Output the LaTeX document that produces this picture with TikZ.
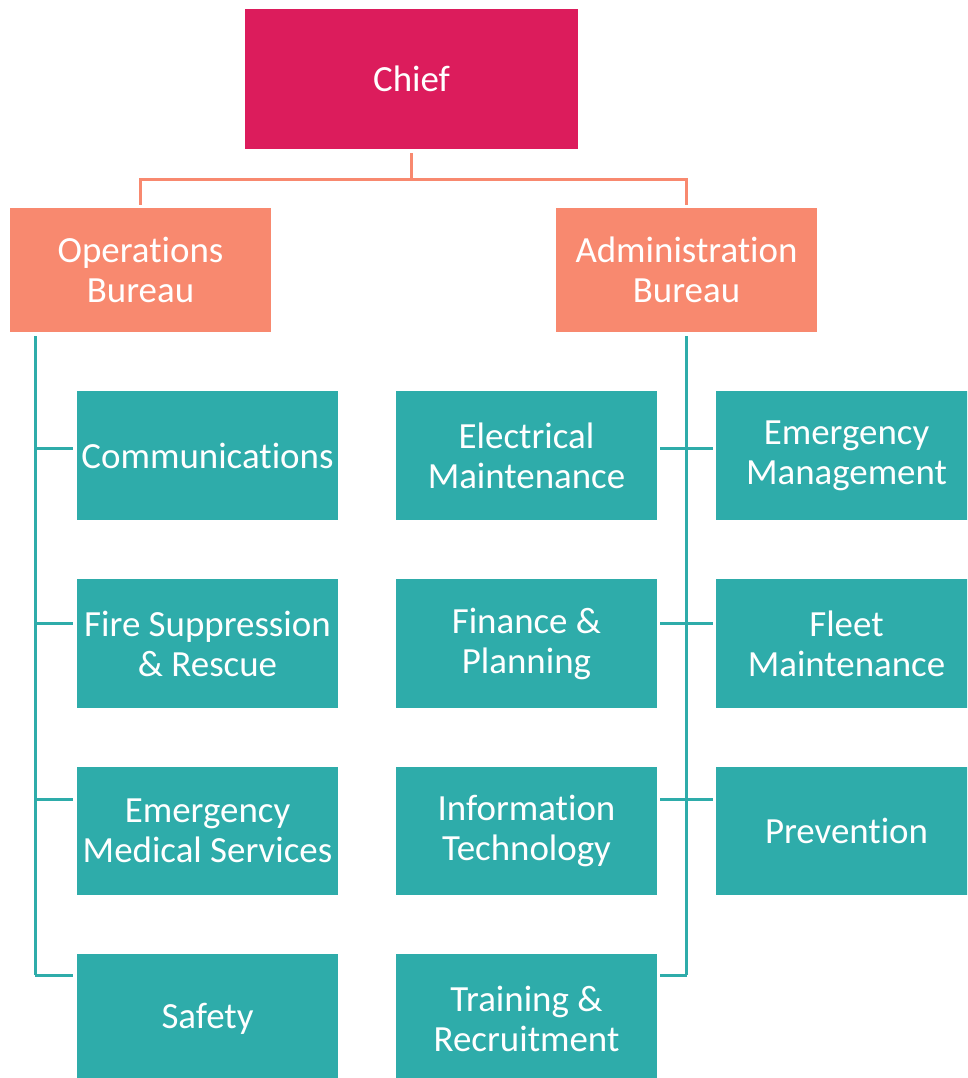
\documentclass[tikz,border=0pt]{standalone}
\usepackage{fontspec}
\setmainfont{Carlito}[Ligatures={NoCommon,NoRare,NoContextual}]
\definecolor{chiefred}{HTML}{DC1C5C}
\definecolor{bureausalmon}{HTML}{F8896F}
\definecolor{unitteal}{HTML}{2EACAA}
\newcommand{\orgfont}{\fontsize{21}{22.8}\selectfont}
\begin{document}
\begin{tikzpicture}[x=0.02cm, y=-0.02cm,
    every node/.style={font=\orgfont, text=white, align=center, inner sep=0pt},
    chiefbox/.style={fill=chiefred, minimum width=6.66cm, minimum height=2.8cm},
    bureaubox/.style={fill=bureausalmon, minimum width=5.22cm, minimum height=2.48cm},
    unitbox/.style={fill=unitteal, minimum width=5.22cm, minimum height=2.58cm},
    salmonline/.style={draw=bureausalmon, line width=0.06cm},
    tealline/.style={draw=unitteal, line width=0.06cm}]
    \useasboundingbox (0,0) rectangle (967,1078);
    \clip (0,0) rectangle (967,1078);
    % top of the chart
    \node[chiefbox] (chief) at (411.5,79) {Chief};
    \node[bureaubox] (ops) at (140.5,270) {Operations\\Bureau};
    \node[bureaubox] (admin) at (686.5,270) {Administration\\Bureau};
    \draw[salmonline, shorten <=0.08cm, shorten >=0.06cm] (chief.south) -- ++(0,30) -| (ops.north);
    \draw[salmonline, shorten <=0.08cm, shorten >=0.06cm] (chief.south) -- ++(0,30) -| (admin.north);
    % units, one column at a time
    \foreach \name/\ypos/\label in {comm/455.5/Communications,
        fire/643.5/{Fire Suppression\\\& Rescue},
        ems/831/{Emergency\\Medical Services},
        safety/1018.5/Safety} {
        \node[unitbox] (\name) at (207.5,\ypos) {\label};
    }
    \foreach \name/\ypos/\label in {elec/455.5/{Electrical\\Maintenance},
        fin/643.5/{Finance \&\\Planning},
        it/831/{Information\\Technology},
        train/1018.5/{Training \&\\Recruitment}} {
        \node[unitbox] (\name) at (526.5,\ypos) {\label};
    }
    \foreach \name/\ypos/\label in {emgm/455.5/{Emergency\\Management},
        fleet/643.5/{Fleet\\Maintenance},
        prev/831/Prevention} {
        \node[unitbox] (\name) at (846.5,\ypos) {\label};
    }
    % operations bus
    \coordinate (ops-bus) at (35,336);
    \draw[tealline] (ops-bus) -- (ops-bus |- 0,975);
    \foreach \name/\ybranch in {comm/448, fire/623, ems/799, safety/975}
        \draw[tealline, shorten >=0.08cm] (ops-bus |- 0,\ybranch) -- (\name.west |- 0,\ybranch);
    % administration bus
    \draw[tealline, shorten <=0.08cm] (admin.south) -- (admin.south |- 0,975);
    \foreach \left/\right/\ybranch in {elec/emgm/448, fin/fleet/623, it/prev/799}
        \draw[tealline, shorten <=0.06cm, shorten >=0.06cm] (\left.east |- 0,\ybranch) -- (\right.west |- 0,\ybranch);
    \draw[tealline, shorten <=0.06cm] (train.east |- 0,975) -- (admin.south |- 0,975);
\end{tikzpicture}
\end{document}
